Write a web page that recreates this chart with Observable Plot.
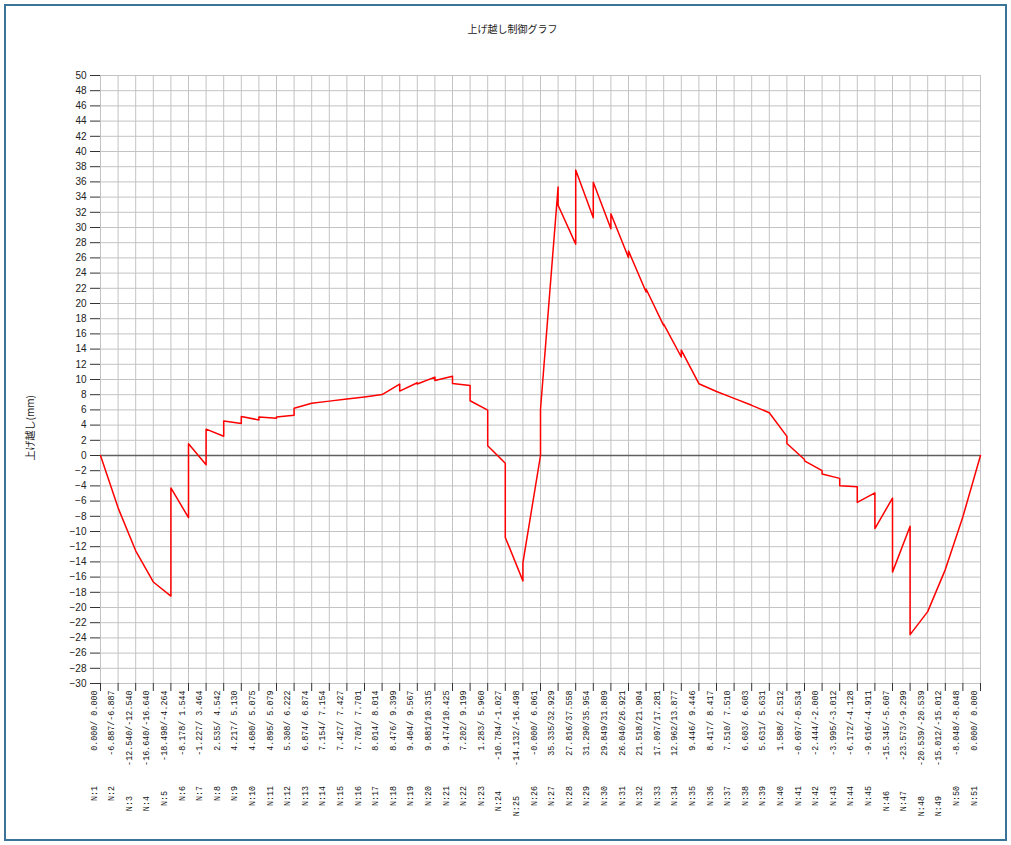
<!DOCTYPE html>
<html><head><meta charset="utf-8">
<script src="https://cdn.jsdelivr.net/npm/d3@7"></script>
<script src="https://cdn.jsdelivr.net/npm/@observablehq/plot@0.6"></script>
<style>
body{margin:0;background:#fff;}
#wrap{position:relative;width:1011px;height:845px;}
#wrap svg{position:absolute;left:0;top:0;}
#border{position:absolute;left:4px;top:4px;width:999px;height:833px;border:2px solid #3a7499;pointer-events:none;}
</style></head><body><div id="wrap"><div id="border"></div></div>
<script>
const title = "上げ越し制御グラフ";
const yLabel = "上げ越し(mm)";
const nodes = [1,2,3,4,5,6,7,8,9,10,11,12,13,14,15,16,17,18,19,20,21,22,23,24,25,26,27,28,29,30,31,32,33,34,35,36,37,38,39,40,41,42,43,44,45,46,47,48,49,50,51];
const leftVals = [0.000,-6.887,-12.540,-16.640,-18.498,-8.178,-1.227,2.535,4.217,4.680,4.895,5.308,6.874,7.154,7.427,7.701,8.014,8.476,9.404,9.881,9.474,7.202,1.283,-10.784,-14.132,-0,35.335,27.816,31.290,29.849,26.040,21.518,17.097,12.962,9.446,8.417,7.510,6.603,5.631,1.588,-0.697,-2.444,-3.995,-6.172,-9.616,-15.345,-23.573,-20.539,-15.012,-8.048,0.000];
const rightVals = [0.000,-6.887,-12.540,-16.640,-4.264,1.544,3.464,4.542,5.130,5.075,5.079,6.222,6.874,7.154,7.427,7.701,8.014,9.399,9.567,10.315,10.425,9.199,5.960,-1.027,-16.498,6.061,32.929,37.558,35.954,31.809,26.921,21.904,17.281,13.877,9.446,8.417,7.510,6.603,5.631,2.512,-0.534,-2.000,-3.012,-4.128,-4.911,-5.607,-9.299,-20.539,-15.012,-8.048,0.000];
// nodes where the line arrives at the right value and leaves from the left value
const reversedNodes = [18,19,20,21,22,23,24,25,40,41,42,43,44,45,46,47];
const yTicks = [-30,-28,-26,-24,-22,-20,-18,-16,-14,-12,-10,-8,-6,-4,-2,0,2,4,6,8,10,12,14,16,18,20,22,24,26,28,30,32,34,36,38,40,42,44,46,48,50];

const NB = "\u00a0";
const fmt = v => {
  let s = Object.is(v, -0) ? "-0.000" : v.toFixed(3);
  while (s.length < 6) s = NB + s;
  return s;
};
const pts = [];
const labels = [];
nodes.forEach((n, i) => {
  const a = leftVals[i], b = rightVals[i];
  const [p, q] = reversedNodes.includes(n) ? [b, a] : [a, b];
  pts.push({x: n, y: p}, {x: n, y: q});
  labels.push({x: n, text: "N:" + n + NB.repeat(6) + fmt(a) + "/" + fmt(b)});
});

const chart = Plot.plot({
  width: 1011, height: 845,
  marginLeft: 100, marginRight: 31, marginTop: 75, marginBottom: 162,
  style: {fontFamily: "'Liberation Sans', sans-serif", fontSize: "10px", background: "transparent", color: "#222"},
  x: {domain: [1, 51]},
  y: {domain: [-30, 50]},
  marks: [
    Plot.gridX({ticks: nodes, stroke: "#c3c3c3", strokeOpacity: 1}),
    Plot.gridY({ticks: yTicks, stroke: "#c3c3c3", strokeOpacity: 1}),
    Plot.ruleY([0], {stroke: "#606060", strokeWidth: 1.5}),
    Plot.axisY({ticks: yTicks, tickSize: 10, tickPadding: 4, label: null, stroke: "#333", fontSize: 10}),
    Plot.axisX({ticks: nodes, tickSize: 8, tickFormat: () => "", label: null, stroke: "#333"}),
    Plot.line(pts, {x: "x", y: "y", stroke: "#ff0000", strokeWidth: 1.5}),
    Plot.text(labels, {x: "x", text: "text", frameAnchor: "bottom", rotate: -90, textAnchor: "end", dy: 7, dx: -4,
      fontFamily: "'Liberation Mono', 'DejaVu Sans Mono', monospace", fontSize: 8.4, fill: "#111"}),
    Plot.text([title], {frameAnchor: "top", dy: -50, dx: -28, fontFamily: "'Noto Sans CJK JP', sans-serif", fontSize: 10, fill: "#222"}),
    Plot.text([yLabel], {frameAnchor: "left", dx: -70, dy: 81, rotate: -90, fontFamily: "'Noto Sans CJK JP', sans-serif", fontSize: 10, fill: "#222"})
  ]
});
document.getElementById("wrap").insertBefore(chart, document.getElementById("border"));
</script>
</body></html>
